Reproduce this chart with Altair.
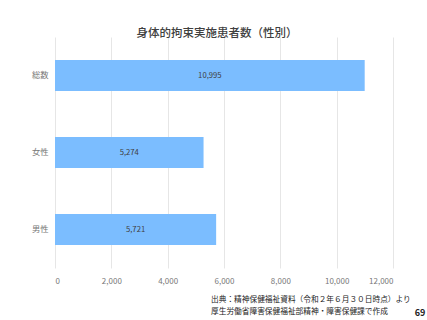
import altair as alt
import pandas as pd

categories = ["総数", "女性", "男性"]
values = [10995, 5274, 5721]
labels = ["10,995", "5,274", "5,721"]
x_ticks = [0, 2000, 4000, 6000, 8000, 10000, 12000]
title_text = "身体的拘束実施患者数（性別）"
footer_lines = ["出典：精神保健福祉資料（令和２年６月３０日時点）より", "厚生労働省障害保健福祉部精神・障害保健課で作成"]
page_no = "69"

FONT = "Noto Sans CJK JP"

df = pd.DataFrame({"cat": categories, "val": values, "lab": labels})

base = alt.Chart(df)

xscale = alt.Scale(domain=[0, 12000], nice=False)
yscale = alt.Scale(domain=categories, paddingInner=0.6, paddingOuter=0.3)
xaxis = alt.Axis(values=x_ticks, format=",d", title=None, domain=False, ticks=False,
                 labelFont=FONT, labelFontSize=8, labelColor="#777777", labelPadding=9,
                 gridColor="#e6e6e6", grid=True)
yaxis = alt.Axis(title=None, domain=False, ticks=False, labelFont=FONT,
                 labelFontSize=8.3, labelColor="#777777", labelPadding=7)

bars = base.mark_bar(color="#7bbdff").encode(
    x=alt.X("val:Q", scale=xscale, axis=xaxis),
    y=alt.Y("cat:N", scale=yscale, axis=yaxis),
)

txt = base.transform_calculate(mid="datum.val / 2").mark_text(
    font=FONT, fontSize=7.7, color="#404040"
).encode(
    x=alt.X("mid:Q", scale=xscale, axis=xaxis),
    y=alt.Y("cat:N", scale=yscale, axis=yaxis),
    text="lab:N",
)

footer1 = alt.Chart(pd.DataFrame({"t": [footer_lines[0]]})).mark_text(
    font=FONT, fontSize=7.7, color="#222222", align="left", baseline="middle"
).encode(x=alt.value(156), y=alt.value(263), text="t:N")

footer2 = alt.Chart(pd.DataFrame({"t": [footer_lines[1]]})).mark_text(
    font=FONT, fontSize=7.7, color="#222222", align="left", baseline="middle"
).encode(x=alt.value(156), y=alt.value(274.5), text="t:N")

page = alt.Chart(pd.DataFrame({"t": [page_no]})).mark_text(
    font=FONT, fontSize=9, fontWeight="bold", color="#222222", align="center", baseline="middle"
).encode(x=alt.value(365), y=alt.value(275.5), text="t:N")

chart = alt.layer(bars, txt, footer1, footer2, page).properties(
    width=338,
    height=231,
    background="white",
    title=alt.TitleParams(title_text, font=FONT, fontSize=11.5, fontWeight=500,
                          color="#404040", offset=-13, dx=-7, anchor="middle", baseline="bottom"),
    autosize=alt.AutoSizeParams(type="none"),
    padding={"left": 55, "top": 37, "right": 34, "bottom": 52},
).configure_view(stroke=None)

chart.save("out.html", embed_options={"renderer": "svg", "actions": False})
